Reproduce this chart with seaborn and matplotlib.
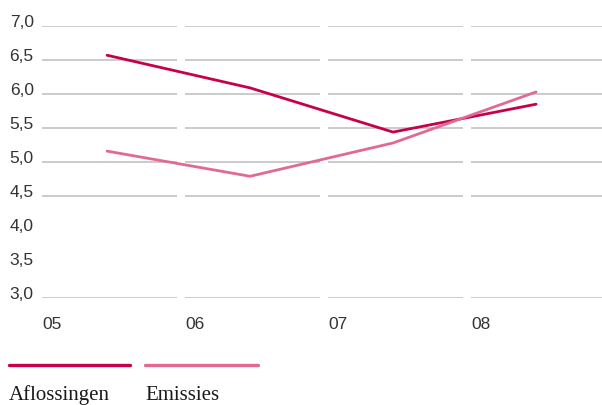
import matplotlib
matplotlib.use("Agg")
import matplotlib.pyplot as plt
import seaborn as sns
import pandas as pd
from matplotlib.lines import Line2D

years = ["05", "06", "07", "08"]
aflossingen = [6.57, 6.09, 5.44, 5.85]
emissies = [5.16, 4.79, 5.28, 6.03]
y_ticks = [3.0, 3.5, 4.0, 4.5, 5.0, 5.5, 6.0, 6.5, 7.0]
grid_levels = [3.0, 4.5, 5.0, 5.5, 6.0, 6.5, 7.0]
series_names = ["Aflossingen", "Emissies"]
colors = ["#C7004C", "#E06A94"]


def main():
	sns.set_style("white")
	df = pd.DataFrame({
		"pos": list(range(len(years))) * 2,
		"value": aflossingen + emissies,
		"serie": [series_names[0]] * len(years) + [series_names[1]] * len(years),
	})

	W, H = 602, 406
	fig = plt.figure(figsize=(W / 100, H / 100), dpi=100)
	ax = fig.add_axes([42 / W, 1 - 299 / H, 1 - 42 / W, (299 - 27) / H])

	# segmented gridlines, one segment per year column
	seg_left, seg_right = -0.455, 0.49
	for v in grid_levels:
		for i in range(len(years) + 1):
			ax.hlines(v, i + seg_left, i + seg_right, color="#BDBDBD", lw=1.1, clip_on=True, zorder=0)

	sns.lineplot(
		data=df, x="pos", y="value", hue="serie",
		palette=colors, legend=False, lw=2.0, ax=ax, zorder=3,
	)

	ax.set_xlim(seg_left, seg_left + (W - 42) / 143)
	ax.set_ylim(3.0, 7.0)
	for s in ax.spines.values():
		s.set_visible(False)

	ax.set_yticks(y_ticks, [f"{v:.1f}".replace(".", ",") for v in y_ticks])
	ax.set_xticks([i + seg_left for i in range(len(years))], years)
	ax.tick_params(axis="both", length=0, labelsize=12.5, labelcolor="#333333")
	ax.tick_params(axis="y", pad=6)
	ax.tick_params(axis="x", pad=13)
	for lbl in ax.get_yticklabels():
		lbl.set_verticalalignment("baseline")
		lbl.set_family(["Liberation Sans", "DejaVu Sans"])
	for lbl in ax.get_xticklabels():
		lbl.set_horizontalalignment("left")
		lbl.set_family(["Liberation Sans", "DejaVu Sans"])
	ax.set_xlabel("")
	ax.set_ylabel("")

	# legend: coloured bar above a serif label
	legend_x = [(9, 130), (145, 258)]
	for (x0, x1), name, c in zip(legend_x, series_names, colors):
		fig.add_artist(Line2D([x0 / W, x1 / W], [1 - 366 / H] * 2, color=c, lw=2.4, transform=fig.transFigure))
		fig.text(x0 / W, 1 - 400 / H, name, fontsize=15, color="#1a1a1a",
			family=["Liberation Serif", "DejaVu Serif"], va="baseline", ha="left")

	fig.savefig("out.png", dpi=100)
	plt.close(fig)


if __name__ == "__main__":
	main()
